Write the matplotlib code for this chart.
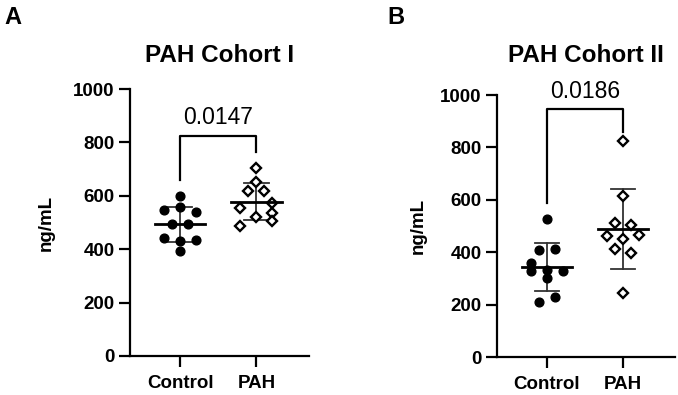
import numpy as np
import matplotlib
matplotlib.use("Agg")
import matplotlib.pyplot as plt

plt.rcParams['font.family'] = ['Liberation Sans', 'DejaVu Sans']

# ---------------- data ----------------
categories = ["Control", "PAH"]

cohort1_control = [600, 547, 557, 538, 493, 493, 441, 432, 434, 394]
cohort1_pah = [705, 653, 618, 618, 555, 574, 537, 522, 506, 487]
cohort2_control = [525, 408, 411, 360, 328, 332, 328, 300, 211, 230]
cohort2_pah = [824, 615, 510, 504, 462, 450, 466, 412, 398, 243]

p_cohort1 = "0.0147"
p_cohort2 = "0.0186"
titles = ["PAH Cohort I", "PAH Cohort II"]
panel_letters = ["A", "B"]
yticks = [0, 200, 400, 600, 800, 1000]

# bracket heights (data units): top, left-leg end, right-leg end
bracket1 = [825, 661, 763]
bracket2 = [945, 588, 860]

# layout: swarm column index for each point (scatter arrangement)
swarm1_control = [0, -2, 0, 2, -1, 1, -2, 0, 2, 0]
swarm1_pah = [0, 0, -1, 1, -2, 2, 2, 0, 2, -2]
swarm2_control = [0, -1, 1, -2, -2, 0, 2, 0, -1, 1]
swarm2_pah = [0, 0, -1, 1, -2, 0, 2, -1, 1, 0]

STEP = 0.105

fig = plt.figure(figsize=(6.78, 3.95), dpi=100)
axA = fig.add_axes([130/678, 1-356/395, 179/678, 267/395])
axB = fig.add_axes([497/678, 1-357/395, 178/678, 262/395])


def draw(ax, ctrl, pah, sw_c, sw_p, title, pval, bracket, labelpad):
    for i, (vals, sw) in enumerate([(ctrl, sw_c), (pah, sw_p)]):
        vals = np.asarray(vals, float)
        xs = i + np.asarray(sw) * STEP
        m = vals.mean()
        s = vals.std(ddof=1)
        # error bars
        ax.plot([i, i], [m - s, m + s], color='#333333', lw=1.3, zorder=2)
        for yy in (m - s, m + s):
            ax.plot([i - 0.16, i + 0.16], [yy, yy], color='#333333', lw=1.3, zorder=2)
        ax.plot([i - 0.33, i + 0.33], [m, m], color='black', lw=2.0, zorder=4)
        if i == 0:
            ax.plot(xs, vals, 'o', ms=6.3, color='black', mec='black', zorder=3,
                    linestyle='none')
        else:
            ax.plot(xs, vals, 'D', ms=5.3, mfc='white', mec='black', mew=1.7,
                    zorder=3, linestyle='none')
    top, lft, rgt = bracket
    ax.plot([0, 0, 1, 1], [lft, top, top, rgt], color='black', lw=1.6,
            clip_on=False, zorder=5)
    ax.text(0.5, top + 25, pval, ha='center', va='bottom', fontsize=16.5,
            clip_on=False)
    ax.set_xlim(-0.66, 1.69)
    ax.set_ylim(0, 1000)
    ax.set_xticks([0, 1])
    ax.set_xticklabels(categories, fontsize=13.5, fontweight='bold')
    ax.set_yticks(yticks)
    ax.set_yticklabels([str(t) for t in yticks], fontsize=13.5, fontweight='bold')
    ax.spines['top'].set_visible(False)
    ax.spines['right'].set_visible(False)
    for sp in ('left', 'bottom'):
        ax.spines[sp].set_linewidth(1.6)
    ax.tick_params(width=1.6, length=8, pad=3)
    ax.tick_params(axis='x', pad=6)
    ax.set_ylabel("ng/mL", fontsize=13.5, fontweight='bold', labelpad=labelpad)
    pos = ax.get_position()
    fig.text((pos.x0 + pos.x1) / 2, 1 - 55/395, title, fontsize=17.5,
             fontweight='bold', ha='center', va='center')


draw(axA, cohort1_control, cohort1_pah, swarm1_control, swarm1_pah,
     titles[0], p_cohort1, bracket1, 13)
draw(axB, cohort2_control, cohort2_pah, swarm2_control, swarm2_pah,
     titles[1], p_cohort2, bracket2, 10)

fig.text(4/678, 1-17/395, panel_letters[0], fontsize=17, fontweight='bold',
         ha='left', va='center')
fig.text(387/678, 1-17/395, panel_letters[1], fontsize=17, fontweight='bold',
         ha='left', va='center')

fig.savefig("out.png", dpi=100)
